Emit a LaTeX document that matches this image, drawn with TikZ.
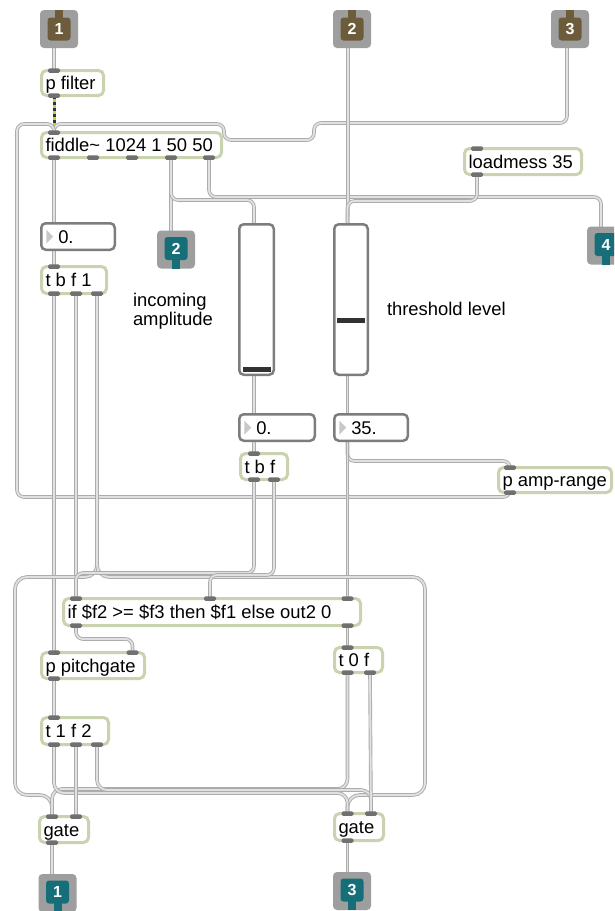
\documentclass[tikz,border=0pt]{standalone}
\usepackage{fontspec}
\setmainfont{Liberation Sans}
\usetikzlibrary{calc}
\pgfdeclarelayer{bg}
\pgfdeclarelayer{cables}
\pgfsetlayers{bg,cables,main}
\definecolor{cableedge}{RGB}{172,172,172}
\definecolor{cablefill}{RGB}{225,225,225}
\definecolor{objedge}{RGB}{202,211,176}
\definecolor{portgrey}{RGB}{112,112,112}
\definecolor{numedge}{RGB}{125,125,125}
\definecolor{numtri}{RGB}{200,200,200}
\definecolor{knobgrey}{RGB}{50,50,50}
\definecolor{ioGrey}{RGB}{158,158,158}
\definecolor{inBrown}{RGB}{108,92,60}
\definecolor{outTeal}{RGB}{22,111,120}
\definecolor{sigYellow}{RGB}{196,206,70}

\begin{document}
\begin{tikzpicture}[x=1pt, y=-1pt,
  every node/.style={inner sep=0pt, outer sep=0pt},
  obj/.style={rectangle, rounded corners=5pt, draw=objedge, line width=3pt, fill=white},
  txt/.style={anchor=west, text height=13.5pt, text depth=0pt, font=\fontsize{18.4}{20}\selectfont},
  port/.style={rectangle, rounded corners=1.5pt, fill=portgrey, minimum width=12pt, minimum height=4.5pt},
  numbox/.style={rectangle, rounded corners=4.5pt, draw=numedge, line width=2.5pt, fill=white},
  iobox/.style={rectangle, rounded corners=4pt, fill=ioGrey, minimum width=38pt, minimum height=38pt},
  incore/.style={rectangle, rounded corners=3pt, fill=inBrown, minimum width=23pt, minimum height=23pt, text=white, font=\fontsize{16}{16}\selectfont\bfseries},
  outcore/.style={incore, fill=outTeal},
  cable/.style={draw=cableedge, double=cablefill, line width=0.9pt, double distance=1.8pt, rounded corners=7pt},
  comment/.style={anchor=base west, font=\fontsize{18.4}{20}\selectfont}
]
\useasboundingbox (0,0) rectangle (614,911);
\clip (0,0) rectangle (614,911);
\begin{pgfonlayer}{bg}
  \fill[white] (0,0) rectangle (614,911);
\end{pgfonlayer}

% ---------- patcher inlets ----------
\node[iobox] (in1) at (59,29) {};
\node[incore] (in1c) at (59,29) {1};
\fill[inBrown] ($(in1.north)+(-4,0)$) rectangle ($(in1c.north)+(4,2)$);
\node[iobox] (in2) at (352,29) {};
\node[incore] (in2c) at (352,29) {2};
\fill[inBrown] ($(in2.north)+(-4,0)$) rectangle ($(in2c.north)+(4,2)$);
\node[iobox] (in3) at (570,29) {};
\node[incore] (in3c) at (570,29) {3};
\fill[inBrown] ($(in3.north)+(-4,0)$) rectangle ($(in3c.north)+(4,2)$);

% ---------- patcher outlets ----------
\node[iobox] (out2) at (176,249.5) {};
\node[outcore] (out2c) at (176,248.5) {2};
\fill[outTeal] ($(out2c.south)+(-4,-2)$) rectangle ($(out2.south)+(4,0)$);
\node[iobox] (out4) at (606,245.5) {};
\node[outcore] (out4c) at (606,244.5) {4};
\fill[outTeal] ($(out4c.south)+(-4,-2)$) rectangle ($(out4.south)+(4,0)$);
\node[iobox] (out1) at (57.5,893) {};
\node[outcore] (out1c) at (57.5,892) {1};
\fill[outTeal] ($(out1c.south)+(-4,-2)$) rectangle ($(out1.south)+(4,0)$);
\node[iobox] (out3) at (352,891) {};
\node[outcore] (out3c) at (352,890) {3};
\fill[outTeal] ($(out3c.south)+(-4,-2)$) rectangle ($(out3.south)+(4,0)$);

% ---------- object boxes ----------
\node[obj, minimum width=62pt, minimum height=25pt] (pfil) at (72.5,83) {};
\node[txt] (pfil-t) at ([xshift=4pt]pfil.west) {p filter};
\node[obj, minimum width=180pt, minimum height=25pt] (fid) at (131.5,145) {};
\node[txt] (fid-t) at ([xshift=4pt]fid.west) {fiddle\textasciitilde{} 1024 1 50 50};
\node[obj, minimum width=117pt, minimum height=26pt] (load) at (523,161.5) {};
\node[txt] (load-t) at ([xshift=4pt]load.west) {loadmess 35};
\node[obj, minimum width=65pt, minimum height=27pt] (tbf1) at (74,280) {};
\node[txt] (tbf1-t) at ([xshift=4pt]tbf1.west) {t b f 1};
\node[obj, minimum width=47pt, minimum height=26pt] (tbfm) at (264,466.5) {};
\node[txt] (tbfm-t) at ([xshift=4pt]tbfm.west) {t b f};
\node[obj, minimum width=113pt, minimum height=25pt] (pamp) at (555,480) {};
\node[txt] (pamp-t) at ([xshift=4pt]pamp.west) {p amp-range};
\node[obj, minimum width=297pt, minimum height=27pt] (iff) at (212,612) {};
\node[txt] (iff-t) at ([xshift=4pt]iff.west) {if \$f2 >= \$f3 then \$f1 else out2 0};
\node[obj, minimum width=103pt, minimum height=26pt] (pitch) at (93,665.5) {};
\node[txt] (pitch-t) at ([xshift=4pt]pitch.west) {p pitchgate};
\node[obj, minimum width=48pt, minimum height=25pt] (t0f) at (358.5,660) {};
\node[txt] (t0f-t) at ([xshift=4pt]t0f.west) {t 0 f};
\node[obj, minimum width=67pt, minimum height=27pt] (t1f2) at (75,731) {};
\node[txt] (t1f2-t) at ([xshift=4pt]t1f2.west) {t 1 f 2};
\node[obj, minimum width=49pt, minimum height=26pt] (gateL) at (64,829.5) {};
\node[txt] (gateL-t) at ([xshift=4pt]gateL.west) {gate};
\node[obj, minimum width=49pt, minimum height=27pt] (gateR) at (359,827) {};
\node[txt] (gateR-t) at ([xshift=4pt]gateR.west) {gate};

% ---------- ports ----------
\node[port] (pfil-i) at (54,70.5) {};
\node[port] (pfil-o) at (54,95.5) {};
\node[port] (fid-i) at (54,132.5) {};
\node[port] (fid-o1) at (54,157.5) {};
\node[port] (fid-o2) at (93,157.5) {};
\node[port] (fid-o3) at (132,157.5) {};
\node[port] (fid-o4) at (171,157.5) {};
\node[port] (fid-o5) at (209,157.5) {};
\node[port] (load-i) at (477,148.5) {};
\node[port] (load-o) at (477,174.5) {};
\node[port] (tbf1-i) at (54,266.5) {};
\node[port] (tbf1-o1) at (54,293.5) {};
\node[port] (tbf1-o2) at (76,293.5) {};
\node[port] (tbf1-o3) at (97,293.5) {};
\node[port] (tbfm-i) at (254,453.5) {};
\node[port] (tbfm-o1) at (254,479.5) {};
\node[port] (tbfm-o2) at (274,479.5) {};
\node[port] (pamp-i) at (510,467.5) {};
\node[port] (pamp-o) at (510,492.5) {};
\node[port] (iff-i1) at (76,598.5) {};
\node[port] (iff-i2) at (210,598.5) {};
\node[port] (iff-i3) at (347.5,598.5) {};
\node[port] (iff-o1) at (76,625.5) {};
\node[port] (iff-o2) at (347.5,625.5) {};
\node[port] (pitch-i1) at (54,652.5) {};
\node[port] (pitch-i2) at (132.5,652.5) {};
\node[port] (pitch-o) at (54,678.5) {};
\node[port] (t0f-i) at (347.5,647.5) {};
\node[port] (t0f-o1) at (347.5,672.5) {};
\node[port] (t0f-o2) at (370,672.5) {};
\node[port] (t1f2-i) at (54,717.5) {};
\node[port] (t1f2-o1) at (54,744.5) {};
\node[port] (t1f2-o2) at (76,744.5) {};
\node[port] (t1f2-o3) at (97,744.5) {};
\node[port] (gateL-i1) at (52,816.5) {};
\node[port] (gateL-i2) at (76,816.5) {};
\node[port] (gateL-o) at (52,842.5) {};
\node[port] (gateR-i1) at (347.5,813.5) {};
\node[port] (gateR-i2) at (371,813.5) {};
\node[port] (gateR-o) at (347.5,840.5) {};

% ---------- number boxes ----------
\node[numbox, minimum width=73.5pt, minimum height=26.5pt] (numA) at (78,236.5) {};
\fill[numtri] ($(numA.west)+(5,-7)$) -- ($(numA.west)+(12,0)$) -- ($(numA.west)+(5,7)$) -- cycle;
\node[txt] (numA-t) at ([xshift=17pt]numA.west) {0.};
\node[numbox, minimum width=75.5pt, minimum height=26.5pt] (numB) at (277,427.5) {};
\fill[numtri] ($(numB.west)+(5,-7)$) -- ($(numB.west)+(12,0)$) -- ($(numB.west)+(5,7)$) -- cycle;
\node[txt] (numB-t) at ([xshift=17pt]numB.west) {0.};
\node[numbox, minimum width=73.5pt, minimum height=26.5pt] (numC) at (371,427.5) {};
\fill[numtri] ($(numC.west)+(5,-7)$) -- ($(numC.west)+(12,0)$) -- ($(numC.west)+(5,7)$) -- cycle;
\node[txt] (numC-t) at ([xshift=17pt]numC.west) {35.};

% ---------- sliders ----------
\node[numbox, minimum width=34.5pt, minimum height=150.5pt] (slA) at (256.5,299.5) {};
\fill[knobgrey] (242.5,367) rectangle (271,372);
\node[numbox, minimum width=33.5pt, minimum height=150.5pt] (slB) at (351,299.5) {};
\fill[knobgrey] (337,318) rectangle (365,323);

% ---------- comments ----------
\node[comment] (c1) at (133,306) {incoming};
\node[comment] (c2) at (133,325) {amplitude};
\node[comment] (c3) at (387,315) {threshold level};

% ---------- cable end points on boxes without visible ports ----------
\coordinate (in1-o) at (54,44);
\coordinate (in2-o) at (348,44);
\coordinate (in3-o) at (567,44);
\coordinate (out2-i) at (171,236);
\coordinate (out4-i) at (601,232);
\coordinate (out1-i) at (52,880);
\coordinate (out3-i) at (347.5,878);
\coordinate (numA-i) at (54,226);
\coordinate (numA-o) at (54,247);
\coordinate (numB-i) at (254,417);
\coordinate (numB-o) at (254,438);
\coordinate (numC-i) at (347.5,417);
\coordinate (numC-o) at (347.5,438);
\coordinate (slA-i) at (254,228);
\coordinate (slA-o) at (254,372);
\coordinate (slB-i) at (347.5,228);
\coordinate (slB-o) at (347.5,372);

% ---------- patch cords ----------
\begin{pgfonlayer}{cables}
  \draw[cable] (in1-o) -- (pfil-i.center);
  % audio signal cord
  \draw[line width=3pt, sigYellow] (pfil-o.center) -- (fid-i.center);
  \draw[line width=3pt, black!80, dash pattern=on 3pt off 3pt] (pfil-o.center) -- (fid-i.center);
  \draw[cable] (in3-o) -- (567,123) -- (314,123) -- (314,140) -- (224,140) -- (224,124) -- (54,124) -- ([yshift=-6pt]fid-i.center);
  \draw[cable] ([yshift=6pt]pamp-o.center) -- (510,497) -- (17,497) -- (17,124) -- (54,124) -- ([yshift=-6pt]fid-i.center);
  \draw[cable] (fid-o1.center) -- (numA-i);
  \draw[cable] (fid-o4.center) -- (out2-i);
  \draw[cable] (fid-o4.center) -- (171,200) -- (254,200) -- (slA-i);
  \draw[cable] (fid-o5.center) -- (209,197) -- (601,197) -- (out4-i);
  \draw[cable] (in2-o) -- (348,200) -- (slB-i);
  \draw[cable] (load-o.center) -- (477,201) -- (347.5,201) -- (slB-i);
  \draw[cable] (slA-o) -- (numB-i);
  \draw[cable] (slB-o) -- (numC-i);
  \draw[cable] (numB-o) -- (tbfm-i.center);
  \draw[cable] (numC-o) -- (347.5,461) -- (510,461) -- ([yshift=-6pt]pamp-i.center);
  \draw[cable] (numC-o) -- (iff-i3.center);
  \draw[cable] (numA-o) -- (tbf1-i.center);
  \draw[cable] (tbf1-o1.center) -- (pitch-i1.center);
  \draw[cable] (tbf1-o2.center) -- (iff-i1.center);
  \draw[cable, rounded corners=12pt] (tbf1-o3.center) -- (97,577) -- (15,577) -- (15,795) -- (52,795) -- ([yshift=-6pt]gateL-i1.center);
  \draw[cable, rounded corners=12pt] (tbf1-o3.center) -- (97,577) -- (425,577) -- (425,795) -- (347.5,795) -- ([yshift=-6pt]gateR-i1.center);
  \draw[cable] (tbfm-o1.center) -- (254,573) -- (76,573) -- ([yshift=-6pt]iff-i1.center);
  \draw[cable] (tbfm-o2.center) -- (274,575) -- (210,575) -- ([yshift=-6pt]iff-i2.center);
  \draw[cable] (iff-o1.center) -- (76,639) -- (132.5,639) -- ([yshift=-6pt]pitch-i2.center);
  \draw[cable] (iff-o2.center) -- (t0f-i.center);
  \draw[cable] (pitch-o.center) -- (t1f2-i.center);
  \draw[cable, rounded corners=10pt] (t0f-o1.center) -- (347.5,789) -- (52,789) -- ([yshift=-6pt]gateL-i1.center);
  \draw[cable, rounded corners=10pt] (t1f2-o1.center) -- (54,793) -- (347.5,793) -- ([yshift=-6pt]gateR-i1.center);
  \draw[cable, rounded corners=10pt] (t1f2-o3.center) -- (97,790) -- (371,790) -- ([yshift=-6pt]gateR-i2.center);
  \draw[cable] (t1f2-o2.center) -- (gateL-i2.center);
  \draw[cable] (t0f-o2.center) -- (gateR-i2.center);
  \draw[cable] (gateL-o.center) -- (out1-i);
  \draw[cable] (gateR-o.center) -- (out3-i);
\end{pgfonlayer}
\end{tikzpicture}
\end{document}
